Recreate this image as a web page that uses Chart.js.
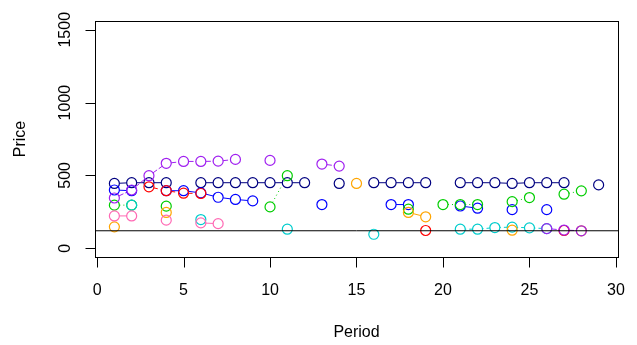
<!DOCTYPE html>
<html><head><meta charset="utf-8">
<script src="https://cdn.jsdelivr.net/npm/chart.js@4/dist/chart.umd.min.js"></script>
<style>html,body{margin:0;padding:0;background:#fff}</style>
</head><body>
<canvas id="c" width="637" height="345"></canvas>
<script>
// Periods 1..29
const periods = [1,2,3,4,5,6,7,8,9,10,11,12,13,14,15,16,17,18,19,20,21,22,23,24,25,26,27,28,29];
const navySeries   = [445,450,450,450,null,450,450,450,450,450,450,450,null,445,null,450,450,450,450,null,450,450,450,445,450,450,450,null,435];
const blueSeries   = [400,395,null,395,395,380,350,335,325,null,null,null,300,null,null,null,300,300,null,null,290,275,null,265,null,265,null,null,null];
const redSeries    = [null,null,422,395,378,376,null,null,null,null,null,null,null,null,null,null,null,null,122,null,null,null,null,null,null,null,122,null,null];
const purpleSeries = [345,400,498,583,596,596,598,610,null,603,null,null,578,564,null,null,null,null,null,null,null,null,null,null,null,135,125,120,null];
const greenSeries  = [296,296,null,289,null,null,null,null,null,284,498,null,null,null,null,null,null,268,null,300,300,300,null,320,348,null,371,394,null];
const cyanSeries   = [null,296,null,null,null,197,null,null,null,null,131,null,null,null,null,96,null,null,null,null,131,131,142,145,140,135,null,null,null];
const orangeSeries = [147,null,null,246,null,null,null,null,null,null,null,null,null,null,445,null,null,246,216,null,null,null,null,124,null,null,null,120,null];
const pinkSeries   = [222,222,null,193,null,174,169,null,null,null,null,null,null,null,null,null,null,null,null,null,null,null,null,null,null,null,null,null,null];
const refLevel = 120;
const xTicks = [0,5,10,15,20,25,30];
const yTicks = [0,500,1000,1500];
const xTitle = "Period";
const yTitle = "Price";

const seriesList = [
  {name:"navy",   vals:navySeries,   col:"#000080", dash:[]},
  {name:"blue",   vals:blueSeries,   col:"#0000FF", dash:[]},
  {name:"green",  vals:greenSeries,  col:"#00CD00", dash:[1,3]},
  {name:"red",    vals:redSeries,    col:"#FF0000", dash:[4,3]},
  {name:"cyan",   vals:cyanSeries,   col:"#00CDCD", dash:[1,3,4,3]},
  {name:"orange", vals:orangeSeries, col:"#FFA500", dash:[]},
  {name:"pink",   vals:pinkSeries,   col:"#FF69B4", dash:[]},
  {name:"purple", vals:purpleSeries, col:"#A020F0", dash:[5,2]}
];

const datasets = seriesList.map((s,i)=>({
  label:s.name,
  data:periods.map((p,j)=>({x:p,y:s.vals[j]})),
  showLine:false,
  gapLine:true, lineDash:s.dash,
  borderColor:s.col, borderWidth:1,
  pointRadius:5, pointBorderWidth:1.2, pointBorderColor:s.col,
  pointBackgroundColor:"rgba(0,0,0,0)",
  order: seriesList.length - i + 1
}));
datasets.push({
  label:"ref",
  data:[{x:-0.12,y:refLevel},{x:30.12,y:refLevel}],
  showLine:true, borderColor:"#000", borderWidth:1, pointRadius:0, order:0
});

// R type="b" lines: segments between consecutive points, stopping short of the symbols
const gapLines = {
  id:'gapLines',
  beforeDatasetsDraw(chart){
    const ctx = chart.ctx, gap = 5;
    ctx.save();
    chart.data.datasets.forEach((ds,di)=>{
      if(!ds.gapLine) return;
      const pts = chart.getDatasetMeta(di).data;
      ctx.strokeStyle = ds.borderColor; ctx.lineWidth = 1; ctx.setLineDash(ds.lineDash);
      for(let j=0;j<ds.data.length-1;j++){
        if(ds.data[j].y==null || ds.data[j+1].y==null) continue;
        const a = pts[j], b = pts[j+1];
        const dx=b.x-a.x, dy=b.y-a.y, d=Math.hypot(dx,dy);
        if(d <= 2*gap) continue;
        const ux=dx/d, uy=dy/d;
        ctx.beginPath();
        ctx.moveTo(a.x+ux*gap, a.y+uy*gap);
        ctx.lineTo(b.x-ux*gap, b.y-uy*gap);
        ctx.stroke();
      }
    });
    ctx.restore();
  }
};

const rAxes = {
  id:'rAxes',
  afterDraw(chart){
    const {ctx, chartArea:a, scales:{x,y}} = chart;
    ctx.save();
    ctx.strokeStyle='#000'; ctx.lineWidth=1;
    const L=Math.round(a.left)+0.5, R=Math.round(a.right)+0.5, T=Math.round(a.top)+0.5, B=Math.round(a.bottom)+0.5;
    ctx.strokeRect(L,T,R-L,B-T);
    const tl=10;
    ctx.beginPath();
    xTicks.forEach(v=>{const px=Math.round(x.getPixelForValue(v))+0.5; ctx.moveTo(px,B); ctx.lineTo(px,B+tl);});
    yTicks.forEach(v=>{const py=Math.round(y.getPixelForValue(v))+0.5; ctx.moveTo(L,py); ctx.lineTo(L-tl,py);});
    ctx.stroke();
    ctx.font='16px "Liberation Sans", Arial, sans-serif';
    ctx.fillStyle='#000';
    ctx.textAlign='center'; ctx.textBaseline='middle';
    xTicks.forEach(v=>ctx.fillText(String(v), x.getPixelForValue(v), 291));
    yTicks.forEach(v=>{ctx.save(); ctx.translate(66, y.getPixelForValue(v)); ctx.rotate(-Math.PI/2); ctx.fillText(String(v),0,0); ctx.restore();});
    ctx.fillText(xTitle, (a.left+a.right)/2, 333);
    ctx.save(); ctx.translate(21,(a.top+a.bottom)/2); ctx.rotate(-Math.PI/2); ctx.fillText(yTitle,0,0); ctx.restore();
    ctx.restore();
  }
};

new Chart(document.getElementById('c'), {
  type:'scatter',
  data:{datasets},
  options:{
    responsive:false, animation:false, devicePixelRatio:1,
    layout:{padding:{left:95,right:19,top:21,bottom:88}},
    scales:{
      x:{type:'linear', min:-0.12, max:30.12, display:false},
      y:{type:'linear', min:-60, max:1560, display:false}
    },
    plugins:{legend:{display:false}, tooltip:{enabled:false}}
  },
  plugins:[gapLines, rAxes]
});
</script>
</body></html>
